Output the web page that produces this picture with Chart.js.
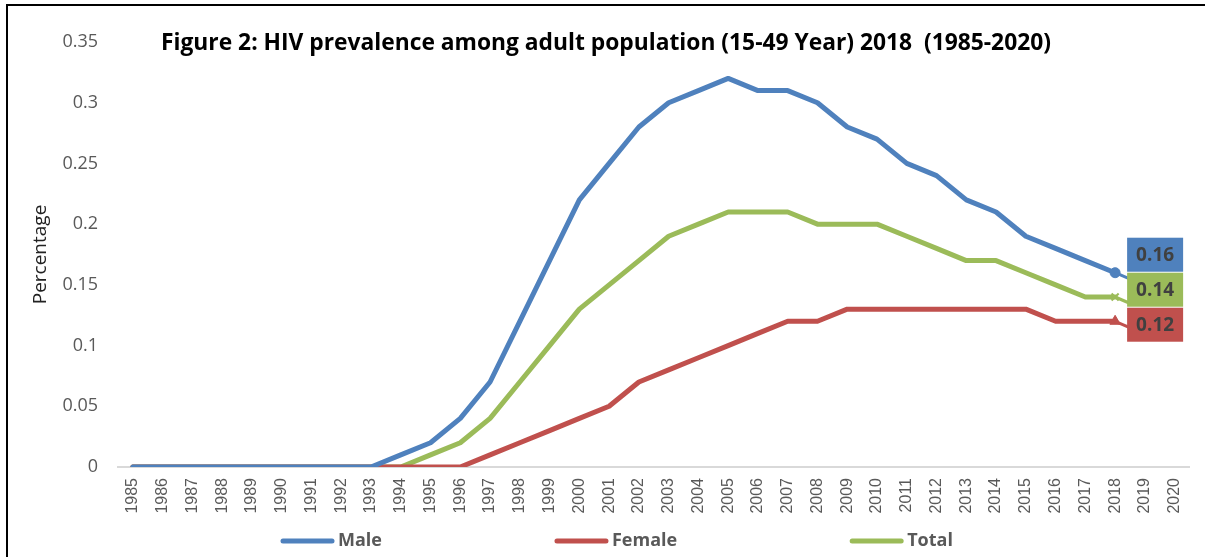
<!DOCTYPE html>
<html>
<head>
<meta charset="utf-8">
<script src="https://cdn.jsdelivr.net/npm/chart.js@4.4.1/dist/chart.umd.min.js"></script>
<style>
  html, body { margin: 0; padding: 0; background: #fff; }
  #wrap { width: 1205px; height: 557px; }
</style>
</head>
<body>
<div id="wrap"><canvas id="hivChart" width="1205" height="557"></canvas></div>
<script>
// categories (x axis)
const years = ['1985', '1986', '1987', '1988', '1989', '1990', '1991', '1992', '1993', '1994',
  '1995', '1996', '1997', '1998', '1999', '2000', '2001', '2002', '2003', '2004',
  '2005', '2006', '2007', '2008', '2009', '2010', '2011', '2012', '2013', '2014',
  '2015', '2016', '2017', '2018', '2019', '2020'];

// series values, 1985 - 2018
const male = [0, 0, 0, 0, 0, 0, 0, 0, 0, 0.01,
  0.02, 0.04, 0.07, 0.12, 0.17, 0.22, 0.25, 0.28, 0.30, 0.31,
  0.32, 0.31, 0.31, 0.30, 0.28, 0.27, 0.25, 0.24, 0.22, 0.21,
  0.19, 0.18, 0.17, 0.16];
const female = [0, 0, 0, 0, 0, 0, 0, 0, 0, 0,
  0, 0, 0.01, 0.02, 0.03, 0.04, 0.05, 0.07, 0.08, 0.09,
  0.10, 0.11, 0.12, 0.12, 0.13, 0.13, 0.13, 0.13, 0.13, 0.13,
  0.13, 0.12, 0.12, 0.12];
const total = [0, 0, 0, 0, 0, 0, 0, 0, 0, 0,
  0.01, 0.02, 0.04, 0.07, 0.10, 0.13, 0.15, 0.17, 0.19, 0.20,
  0.21, 0.21, 0.21, 0.20, 0.20, 0.20, 0.19, 0.18, 0.17, 0.17,
  0.16, 0.15, 0.14, 0.14];

// y axis ticks
const yMax = 0.35;
const yStep = 0.05;

const titleText = 'Figure 2: HIV prevalence among adult population (15-49 Year) 2018  (1985-2020)';

// marker only on the last point of each series
const lastOnly = (r) => (ctx) => ctx.dataIndex === ctx.dataset.data.length - 1 ? r : 0;

function makeSeries(label, data, color, style, r) {
  return {
    label: label,
    data: data,
    borderColor: color,
    backgroundColor: color,
    borderWidth: 5,
    borderJoinStyle: 'round',
    borderCapStyle: 'round',
    tension: 0,
    pointStyle: style,
    pointRadius: lastOnly(r),
    pointHoverRadius: lastOnly(r),
    pointBorderWidth: style === 'crossRot' ? 2 : 1,
    pointBackgroundColor: color,
    pointBorderColor: color
  };
}

const decor = {
  id: 'decor',
  beforeDraw(chart) {
    const ctx = chart.ctx;
    ctx.save();
    ctx.fillStyle = '#fff';
    ctx.fillRect(0, 0, chart.width, chart.height);
    ctx.restore();
  },
  afterDatasetsDraw(chart) {
    // value boxes next to the last point
    const ctx = chart.ctx;
    const boxes = chart.data.datasets.map((ds, i) => {
      const last = ds.data.length - 1;
      const pt = chart.getDatasetMeta(i).data[last];
      return { color: ds.borderColor, value: ds.data[last], x: pt.x, y: pt.y };
    }).sort((a, b) => b.value - a.value);

    ctx.save();
    let top = boxes[0].y - 35;
    boxes.forEach(b => {
      const left = b.x + 12;
      ctx.strokeStyle = b.color;
      ctx.lineWidth = 3;
      ctx.beginPath();
      ctx.moveTo(b.x, b.y);
      ctx.lineTo(left + 2, b.y + 6);
      ctx.stroke();
      ctx.fillStyle = b.color;
      ctx.fillRect(left, top, 56, 34);
      ctx.fillStyle = '#404040';
      ctx.font = 'bold 19px "Open Sans"';
      ctx.textAlign = 'center';
      ctx.textBaseline = 'middle';
      ctx.fillText(String(b.value), left + 28, top + 18);
      top += 35;
    });
    ctx.restore();
  },
  afterDraw(chart) {
    const ctx = chart.ctx;
    ctx.save();
    // title sits inside the plot area
    ctx.fillStyle = '#000';
    ctx.font = 'bold 22.8px "Open Sans"';
    ctx.textAlign = 'center';
    ctx.textBaseline = 'middle';
    ctx.fillText(titleText, 606, 44);

    // legend
    ctx.font = 'bold 18px "Open Sans"';
    ctx.textAlign = 'left';
    let x = 280;
    const y = 541;
    chart.data.datasets.forEach(ds => {
      ctx.strokeStyle = ds.borderColor;
      ctx.lineWidth = 5;
      ctx.lineCap = 'round';
      ctx.beginPath();
      ctx.moveTo(x + 3, y);
      ctx.lineTo(x + 52, y);
      ctx.stroke();
      ctx.fillStyle = '#595959';
      ctx.fillText(ds.label, x + 58, y);
      x += 58 + ctx.measureText(ds.label).width + 172;
    });

    // frame lines (top and left)
    ctx.fillStyle = '#000';
    ctx.fillRect(6, 4, chart.width - 6, 2);
    ctx.fillRect(6, 4, 2, chart.height - 4);
    ctx.restore();
  }
};

new Chart(document.getElementById('hivChart'), {
  type: 'line',
  data: {
    labels: years,
    datasets: [
      makeSeries('Male', male, '#4F81BD', 'circle', 5),
      makeSeries('Female', female, '#C0504D', 'triangle', 6),
      makeSeries('Total', total, '#9BBB59', 'crossRot', 5)
    ]
  },
  options: {
    responsive: false,
    animation: false,
    layout: { padding: { top: 42, right: 11, bottom: 33, left: 0 } },
    plugins: {
      legend: { display: false },
      title: { display: false },
      tooltip: { enabled: false }
    },
    scales: {
      x: {
        offset: true,
        grid: { display: false, drawTicks: false },
        border: { display: true, color: '#D9D9D9', width: 2 },
        ticks: {
          autoSkip: false,
          minRotation: 90,
          maxRotation: 90,
          padding: 11,
          color: '#595959',
          font: { family: '"Liberation Sans", Arial, sans-serif', size: 16 }
        },
        afterFit(scale) { scale.height = 57; }
      },
      y: {
        min: 0,
        max: yMax,
        grid: { display: false, drawTicks: false },
        border: { display: false },
        ticks: {
          stepSize: yStep,
          padding: 20,
          color: '#595959',
          font: { family: '"Open Sans", sans-serif', size: 18 },
          callback: (v) => String(Number(v.toFixed(2)))
        },
        title: {
          display: true,
          text: 'Percentage',
          color: '#222',
          font: { family: '"Open Sans", sans-serif', size: 19 },
          padding: { top: 29, bottom: 0 }
        },
        afterFit(scale) { scale.width = 118; }
      }
    }
  },
  plugins: [decor]
});
</script>
</body>
</html>
